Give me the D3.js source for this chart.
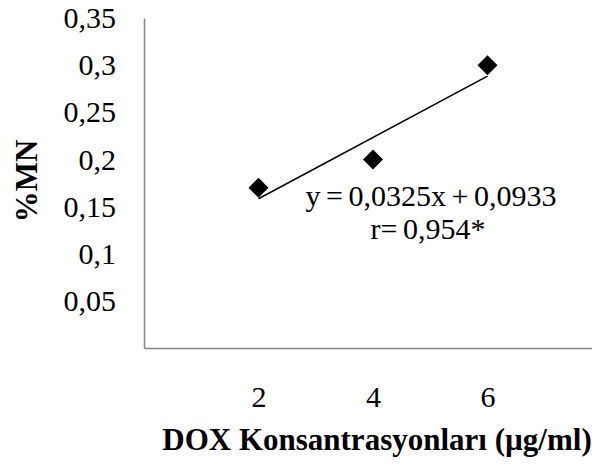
<!DOCTYPE html>
<html>
<head>
<meta charset="utf-8">
<script src="https://cdn.jsdelivr.net/npm/d3@7"></script>
<style>
  body { margin: 0; background: #fff; }
  svg { display: block; }
</style>
</head>
<body>
<div id="chart"></div>
<script>
var svgWidth = 592;
var svgHeight = 470;

// data
var doses = [2, 4, 6];
var mnValues = [0.17, 0.2, 0.3];
var yTicks = [0.05, 0.1, 0.15, 0.2, 0.25, 0.3, 0.35];
var xTicks = [2, 4, 6];
var slope = 0.0325;
var intercept = 0.0933;
var eqLines = ["y = 0,0325x + 0,0933", "r= 0,954*"];

var plot = { left: 144, top: 18, bottom: 348, right: 602 };
var serif = "'Liberation Serif', 'Times New Roman', serif";

var svg = d3.select("#chart")
  .append("svg")
  .attr("width", svgWidth)
  .attr("height", svgHeight);

var xScale = d3.scaleLinear().domain([0, 8]).range([plot.left, plot.right]);
var yScale = d3.scaleLinear().domain([0, 0.35]).range([plot.bottom, plot.top]);

var fmt = d => String(d).replace(".", ",");

// Axes
var yAxis = d3.axisLeft(yScale).tickValues(yTicks).tickSize(0).tickPadding(28).tickFormat(fmt);
var xAxis = d3.axisBottom(xScale).tickValues(xTicks).tickSize(0).tickPadding(38).tickFormat(fmt);

var gy = svg.append("g").attr("transform", `translate(${plot.left},0)`).call(yAxis);
var gx = svg.append("g").attr("transform", `translate(0,${plot.bottom})`).call(xAxis);

[gx, gy].forEach(function(g) {
  g.select(".domain").attr("stroke", "#868686").attr("stroke-width", 1.5);
  g.selectAll("text")
    .attr("font-family", serif)
    .attr("font-size", "30px")
    .attr("fill", "#000");
});

// Trend line
svg.append("line")
  .attr("x1", xScale(d3.min(doses)))
  .attr("y1", yScale(slope * d3.min(doses) + intercept))
  .attr("x2", xScale(d3.max(doses)))
  .attr("y2", yScale(slope * d3.max(doses) + intercept))
  .attr("stroke", "#000")
  .attr("stroke-width", 1.5);

// Diamond markers
var diamond = d3.symbol().type(d3.symbolSquare).size(200);
svg.selectAll(".pt")
  .data(doses)
  .enter()
  .append("path")
  .attr("class", "pt")
  .attr("d", diamond)
  .attr("transform", (d, i) => `translate(${xScale(d)},${yScale(mnValues[i])}) rotate(45)`)
  .attr("fill", "#000");

// Equation
svg.append("g")
  .selectAll("text")
  .data(eqLines)
  .enter()
  .append("text")
  .attr("x", (d, i) => i ? 428 : 431)
  .attr("y", (d, i) => 206 + i * 33)
  .attr("text-anchor", "middle")
  .attr("font-family", serif)
  .attr("font-size", "30px")
  .attr("word-spacing", "-2px")
  .attr("fill", "#000")
  .text(d => d);

// Axis titles
svg.append("text")
  .attr("transform", "translate(37,181) rotate(-90)")
  .attr("text-anchor", "middle")
  .attr("font-family", serif)
  .attr("font-size", "31px")
  .attr("font-weight", "bold")
  .attr("fill", "#000")
  .text("%MN");

svg.append("text")
  .attr("x", 377)
  .attr("y", 450)
  .attr("text-anchor", "middle")
  .attr("font-family", serif)
  .attr("font-size", "31px")
  .attr("font-weight", "bold")
  .attr("fill", "#000")
  .text("DOX Konsantrasyonları (µg/ml)");
</script>
</body>
</html>
